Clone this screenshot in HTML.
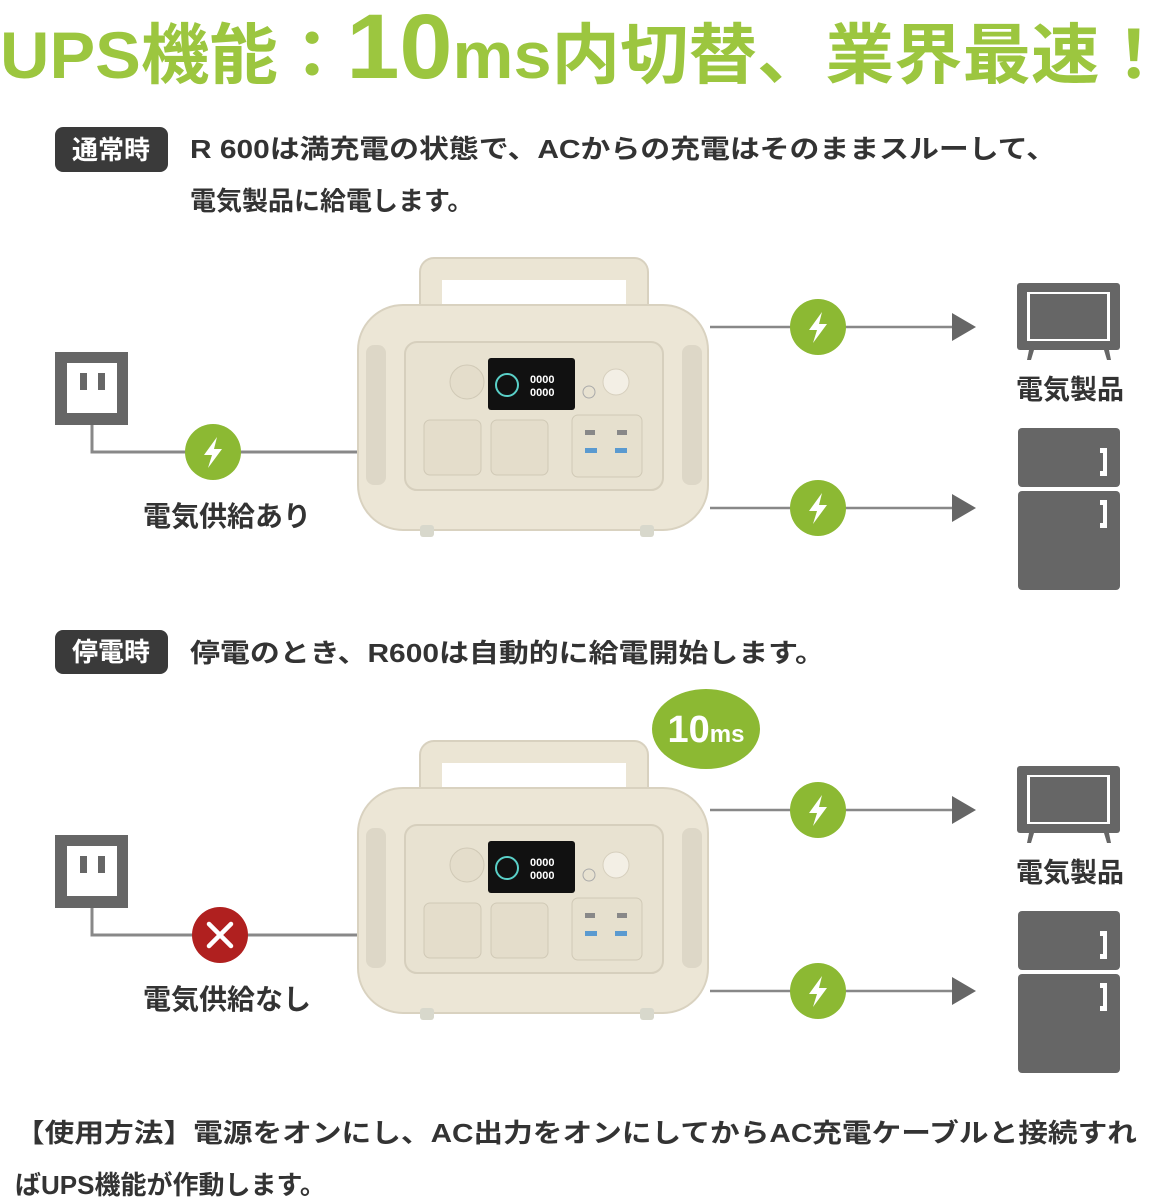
<!DOCTYPE html>
<html><head><meta charset="utf-8"><style>
html,body{margin:0;padding:0;background:#fff}
svg{display:block}
text{font-family:"Liberation Sans","Noto Sans CJK JP",sans-serif;font-weight:bold}
</style></head><body>
<svg width="1170" height="1200" viewBox="0 0 1170 1200" xmlns="http://www.w3.org/2000/svg">
<defs>
<g id="dev">
  <rect x="420" y="258" width="228" height="70" rx="14" fill="#ebe5d4" stroke="#d8d1bf" stroke-width="2"/>
  <rect x="442" y="280" width="184" height="50" fill="#fff"/>
  <rect x="358" y="305" width="350" height="225" rx="45" fill="#ece6d6" stroke="#d9d2c0" stroke-width="2"/>
  <rect x="366" y="345" width="20" height="140" rx="8" fill="#ddd7c7"/>
  <rect x="682" y="345" width="20" height="140" rx="8" fill="#ddd7c7"/>
  <rect x="405" y="342" width="258" height="148" rx="12" fill="#e8e2d1" stroke="#d6cfbd" stroke-width="2"/>
  <circle cx="467" cy="382" r="17" fill="#e4ddcb" stroke="#d0c9b6"/>
  <rect x="488" y="358" width="87" height="52" rx="3" fill="#111"/>
  <circle cx="507" cy="385" r="11" fill="none" stroke="#5ad0c8" stroke-width="2"/>
  <text x="530" y="383" font-size="11" fill="#fff">0000</text>
  <text x="530" y="396" font-size="11" fill="#fff">0000</text>
  <circle cx="616" cy="382" r="13" fill="#f3efe5" stroke="#d6cfbd"/>
  <circle cx="589" cy="392" r="6" fill="none" stroke="#aaa"/>
  <rect x="424" y="420" width="57" height="55" rx="6" fill="#e4ddcb" stroke="#d0c9b6"/>
  <rect x="491" y="420" width="57" height="55" rx="6" fill="#e4ddcb" stroke="#d0c9b6"/>
  <rect x="572" y="415" width="70" height="62" rx="6" fill="#e6e0ce" stroke="#d0c9b6"/>
  <rect x="585" y="430" width="10" height="5" fill="#888"/><rect x="617" y="430" width="10" height="5" fill="#888"/>
  <rect x="585" y="448" width="12" height="5" fill="#5a9ad0"/><rect x="615" y="448" width="12" height="5" fill="#5a9ad0"/>
  <rect x="420" y="525" width="14" height="12" rx="3" fill="#d8d8cc"/>
  <rect x="640" y="525" width="14" height="12" rx="3" fill="#d8d8cc"/>
</g>
<g id="bolt"><circle r="28" fill="#8cb933"/><path d="M4,-15 L-9,3 L-1,3 L-5,16 L9,-3 L1,-3 Z" fill="#fff"/></g>
<g id="outlet">
  <rect x="55" y="352" width="73" height="73" fill="#666"/>
  <rect x="67" y="363" width="50" height="50" fill="#fff"/>
  <rect x="80" y="373" width="7" height="17" fill="#666"/><rect x="98" y="373" width="7" height="17" fill="#666"/>
  <polyline points="92,425 92,452 357,452" fill="none" stroke="#888" stroke-width="3"/>
</g>
<g id="right">
  <line x1="710" y1="327" x2="955" y2="327" stroke="#888" stroke-width="2.5"/>
  <polygon points="952,313 976,327 952,341" fill="#666"/>
  <use href="#bolt" x="818" y="327"/>
  <line x1="710" y1="508" x2="955" y2="508" stroke="#888" stroke-width="2.5"/>
  <polygon points="952,494 976,508 952,522" fill="#666"/>
  <use href="#bolt" x="818" y="508"/>
  <rect x="1017" y="283" width="103" height="67" rx="3" fill="#666"/>
  <rect x="1027" y="292" width="83" height="49" fill="#fff"/>
  <rect x="1030" y="294" width="77" height="45" fill="#666"/>
  <polygon points="1029,350 1034,350 1031,360 1027,360" fill="#666"/>
  <polygon points="1104,350 1109,350 1111,360 1107,360" fill="#666"/>
  <text x="1070" y="399" font-size="27" fill="#333" text-anchor="middle">電気製品</text>
  <rect x="1018" y="428" width="102" height="59" rx="4" fill="#666"/>
  <rect x="1018" y="491" width="102" height="99" rx="4" fill="#666"/>
  <path d="M1100,448 h7 v28 h-7 v-5 h3 v-18 h-3 z" fill="#fff"/>
  <path d="M1100,500 h7 v28 h-7 v-5 h3 v-18 h-3 z" fill="#fff"/>
</g>
</defs>

<text x="0" y="78" font-size="66" fill="#9cc63f" textLength="1168" lengthAdjust="spacingAndGlyphs">UPS機能：<tspan font-size="92">10</tspan>ms内切替、業界最速！</text>

<rect x="55" y="127" width="113" height="45" rx="8" fill="#3a3a3a"/>
<text x="111" y="159" font-size="26" fill="#fff" text-anchor="middle">通常時</text>
<text x="190" y="158" font-size="26" fill="#333" textLength="866" lengthAdjust="spacingAndGlyphs">R 600は満充電の状態で、ACからの充電はそのままスルーして、</text>
<text x="190" y="210" font-size="26" fill="#333">電気製品に給電します。</text>

<use href="#outlet"/>
<use href="#bolt" x="213" y="452"/>
<text x="227" y="526" font-size="28" fill="#333" text-anchor="middle">電気供給あり</text>
<use href="#dev"/>
<use href="#right"/>

<rect x="55" y="630" width="113" height="44" rx="8" fill="#3a3a3a"/>
<text x="111" y="661" font-size="26" fill="#fff" text-anchor="middle">停電時</text>
<text x="190" y="662" font-size="26" fill="#333" textLength="635" lengthAdjust="spacingAndGlyphs">停電のとき、R600は自動的に給電開始します。</text>

<ellipse cx="706" cy="729" rx="54" ry="40" fill="#8cb933"/>
<text x="706" y="742" font-size="38" fill="#fff" text-anchor="middle">10<tspan font-size="24">ms</tspan></text>

<g transform="translate(0,483)">
  <use href="#outlet"/>
  <use href="#dev"/>
  <use href="#right"/>
</g>
<circle cx="220" cy="935" r="28" fill="#b0201f"/>
<path d="M209,924 L231,946 M231,924 L209,946" stroke="#fff" stroke-width="4.5" stroke-linecap="round"/>
<text x="227" y="1009" font-size="28" fill="#333" text-anchor="middle">電気供給なし</text>

<text x="15" y="1142" font-size="26" fill="#333" textLength="1122" lengthAdjust="spacingAndGlyphs">【使用方法】電源をオンにし、AC出力をオンにしてからAC充電ケーブルと接続すれ</text>
<text x="15" y="1194" font-size="26" fill="#333">ばUPS機能が作動します。</text>
</svg>
</body></html>
